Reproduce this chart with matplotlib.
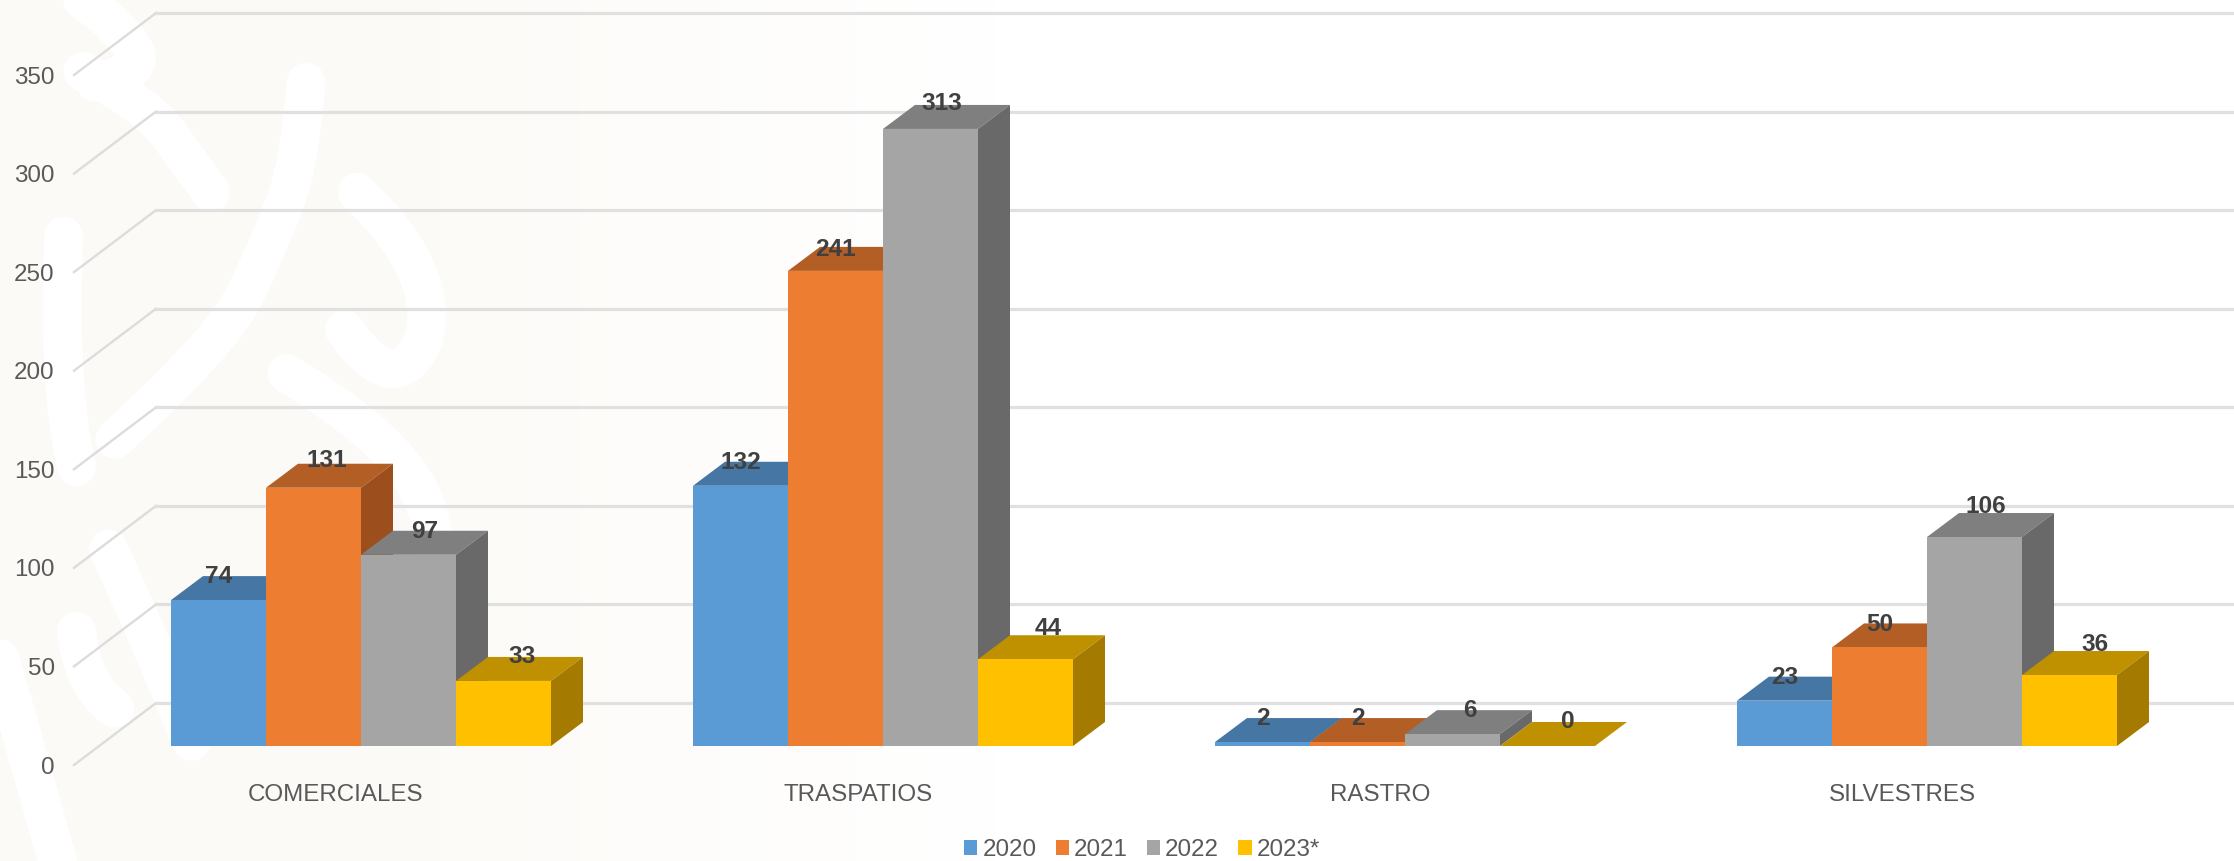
import matplotlib
matplotlib.use('Agg')
import matplotlib.pyplot as plt
import numpy as np
from matplotlib.colors import LinearSegmentedColormap
from matplotlib.patches import Patch, PathPatch, Polygon
from matplotlib.path import Path

plt.rcParams['font.family'] = ['Liberation Sans', 'DejaVu Sans']

categories = ['COMERCIALES', 'TRASPATIOS', 'RASTRO', 'SILVESTRES']
years = ['2020', '2021', '2022', '2023*']
values_2020 = [74, 132, 2, 23]
values_2021 = [131, 241, 2, 50]
values_2022 = [97, 313, 6, 106]
values_2023 = [33, 44, 0, 36]
y_ticks = [0, 50, 100, 150, 200, 250, 300, 350]

series = [values_2020, values_2021, values_2022, values_2023]
front_colors = ['#5B9BD5', '#ED7D31', '#A5A5A5', '#FFC000']
top_colors = ['#4676A3', '#B25E25', '#7F7F7F', '#BF9000']
side_colors = ['#3D6A92', '#9C4F1C', '#696969', '#A47B00']

# nudges of the value labels, pixels, by category then series
label_nudge = [[0, 13, 16, 19], [0, 0, 11, 23], [0, 0, 17, 20], [0, 0, 11, 26]]
label_lift = [[0, 3, -1, 0], [-1, -3, 1, 7], [0, 0, 0, 0], [-1, -1, 7, 7]]

# rough white swirls of the background watermark, as read from a 1568x1568 crop of the left side
swirls = [
    [(0, 0), (50, 80)],
    [(130, 0), (190, 50), (230, 130), (150, 150)],
    [(130, 130), (230, 190), (300, 300), (330, 350)],
    [(100, 430), (90, 700), (120, 850)],
    [(180, 800), (350, 620), (420, 450), (470, 300), (480, 150)],
    [(560, 350), (650, 450), (680, 620), (600, 700), (540, 600)],
    [(170, 1000), (230, 1150), (300, 1350)],
    [(120, 1150), (130, 1250), (180, 1290)],
    [(270, 1450), (330, 1568)],
    [(450, 680), (620, 800), (700, 1000), (680, 1200)],
    [(0, 1200), (50, 1400), (90, 1568)],
    [(730, 1400), (850, 1568)],
]

W, H = 2234, 861
AX_LEFT, AX_BOTTOM = 74, 861 - 765
AX_HEIGHT = 690
PX_X = 522.0                 # pixels per category
PX_Y = AX_HEIGHT / 350.0     # pixels per value unit


def smooth_path(points):
    verts = [points[0]]
    codes = [Path.MOVETO]
    for a, b in zip(points[1:-1], points[2:]):
        verts += [a, ((a[0] + b[0]) / 2, (a[1] + b[1]) / 2)]
        codes += [Path.CURVE3, Path.CURVE3]
    verts[-1] = points[-1]
    if len(points) == 2:
        verts.append(points[1])
        codes.append(Path.LINETO)
    return Path(verts, codes)


fig = plt.figure(figsize=(W / 100, H / 100), dpi=100, facecolor='white')

# watermark
bg = fig.add_axes([0, 0, 1000 / W, 1], zorder=0)
bg.set_xlim(0, 1568)
bg.set_ylim(1568, 0)
bg.axis('off')
fade = np.concatenate([np.ones(60), np.linspace(1, 0, 140)]).reshape(1, -1)
cream = LinearSegmentedColormap.from_list('cream', ['#FFFFFF', '#FCFAF6'])
bg.imshow(fade, cmap=cream, vmin=0, vmax=1, extent=(0, 1568, 1568, 0), aspect='auto', zorder=0)
for pts in swirls:
    bg.add_patch(PathPatch(smooth_path(pts), fc='none', ec='white', lw=28, capstyle='round', zorder=1))

ax = fig.add_axes([AX_LEFT / W, AX_BOTTOM / H, (W - AX_LEFT) / W, AX_HEIGHT / H], zorder=1)
ax.patch.set_alpha(0)
ax.set_xlim((74 - 336) / PX_X, (W - 336) / PX_X)
ax.set_ylim(0, 350)
ax.set_autoscale_on(False)

# wall depth and bar depth, converted to data units
wall_dx, wall_dy = 82 / PX_X, 62 / PX_Y
inset_dx, inset_dy = 25 / PX_X, 19 / PX_Y
bar_dx, bar_dy = 32 / PX_X, 24 / PX_Y
bar_w = 95 / PX_X

x0, x1 = ax.get_xlim()
for t in y_ticks:
    ax.plot([x0, x0 + wall_dx], [t, t + wall_dy], color='#DCDCDC', lw=1.7, clip_on=False, zorder=1)
    ax.plot([x0 + wall_dx, x1], [t + wall_dy, t + wall_dy], color='#E0E0E0', lw=2.3, clip_on=False, zorder=1)

for i in range(len(categories)):
    for s, vals in enumerate(series):
        v = vals[i]
        left = i - 2 * bar_w + s * bar_w + inset_dx
        base = inset_dy
        top = base + v
        ax.add_patch(Polygon([(left, top), (left + bar_w, top), (left + bar_w + bar_dx, top + bar_dy),
                              (left + bar_dx, top + bar_dy)], closed=True, fc=top_colors[s], ec='none',
                             clip_on=False, zorder=3))
        ax.add_patch(Polygon([(left + bar_w, base), (left + bar_w + bar_dx, base + bar_dy),
                              (left + bar_w + bar_dx, top + bar_dy), (left + bar_w, top)], closed=True,
                             fc=side_colors[s], ec='none', clip_on=False, zorder=3))
        if v > 0:
            ax.bar(left, v, width=bar_w, bottom=base, align='edge', color=front_colors[s], clip_on=False, zorder=3)

for i in range(len(categories)):
    for s, vals in enumerate(series):
        v = vals[i]
        left = i - 2 * bar_w + s * bar_w + inset_dx
        ax.text(left + bar_w / 2 + label_nudge[i][s] / PX_X, inset_dy + v + bar_dy + label_lift[i][s] / PX_Y, str(v),
                ha='center', va='center', fontsize=17.6, fontweight='bold', color='#404040', zorder=5)

ax.set_xticks(range(len(categories)))
ax.set_xticklabels(categories)
ax.set_yticks(y_ticks)
ax.tick_params(axis='x', length=0, pad=14, labelsize=17.4, labelcolor='#595959')
ax.tick_params(axis='y', length=0, pad=14, labelsize=17.4, labelcolor='#595959')
for sp in ax.spines.values():
    sp.set_visible(False)

handles = [Patch(facecolor=c, edgecolor='none', label=y) for c, y in zip(front_colors, years)]
fig.legend(handles=handles, loc='center', bbox_to_anchor=(1142 / W, 1 - 850 / H), ncol=4, frameon=False,
           fontsize=17.4, labelcolor='#595959', handlelength=0.55, handleheight=0.55,
           handletextpad=0.2, columnspacing=0.8, borderpad=0, borderaxespad=0)

fig.savefig('out.png', dpi=100)
